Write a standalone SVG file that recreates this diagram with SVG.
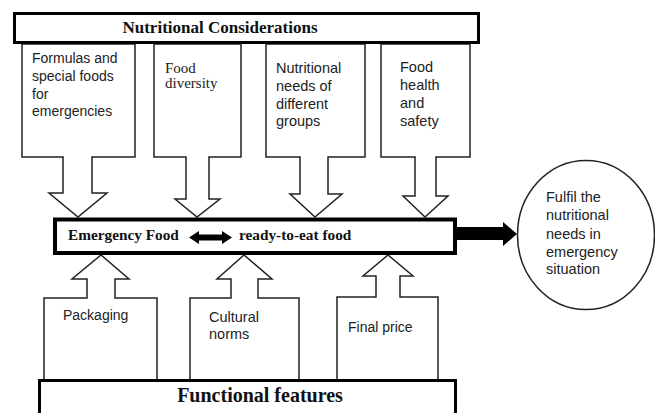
<svg xmlns="http://www.w3.org/2000/svg" width="655" height="413" viewBox="0 0 655 413">
<style>
.co{fill:#fff;stroke:#222;stroke-width:1.5;stroke-linejoin:miter}
.bx{fill:#fff;stroke:#000}
.t{font-family:"Liberation Sans",Arial,sans-serif;font-size:14.5px;fill:#222}
.t14{font-size:14px}
.ts{font-family:"Liberation Serif","Times New Roman",serif;font-size:15px;fill:#222}
.tb{font-family:"Liberation Serif","Times New Roman",serif;font-weight:bold;fill:#111}
</style>
<rect width="655" height="413" fill="#fff"/>
<g id="c-formulas">
<polygon class="co" points="22,44 22,157 63,157 63,193 49,193 78,217 107,193 92,193 92,157 135,157 135,44"/>
<text class="t t14" x="32" y="63">Formulas and</text>
<text class="t t14" x="32" y="81">special foods</text>
<text class="t t14" x="32" y="99">for</text>
<text class="t t14" x="32" y="116">emergencies</text>
</g>
<g id="c-diversity">
<polygon class="co" points="154,44 154,157 186,157 186,199 175,199 197,217 220,199 209,199 209,157 241,157 241,44"/>
<text class="ts" x="165" y="73">Food</text>
<text class="ts" x="165" y="88">diversity</text>
</g>
<g id="c-needs">
<polygon class="co" points="266,44 266,157 300,157 300,194 290,194 315,217 342,194 328,194 328,157 365,157 365,44"/>
<text class="t" x="276" y="73">Nutritional</text>
<text class="t" x="276" y="91">needs of</text>
<text class="t" x="276" y="109">different</text>
<text class="t" x="276" y="126">groups</text>
</g>
<g id="c-safety">
<polygon class="co" points="381,44 381,157 415,157 415,196 403,196 425,217 448,196 436,196 436,157 470,157 470,44"/>
<text class="t" x="400" y="72">Food</text>
<text class="t" x="400" y="90">health</text>
<text class="t" x="400" y="108">and</text>
<text class="t" x="400" y="126">safety</text>
</g>
<g id="c-packaging">
<polygon class="co" points="44,381 44,298 87,298 87,279 72,279 101,255 129,279 115,279 115,298 157,298 157,381"/>
<text class="t t14" x="63" y="320">Packaging</text>
</g>
<g id="c-cultural">
<polygon class="co" points="190,381 190,298 231,298 231,279 217,279 244,255 272,279 258,279 258,298 299,298 299,381"/>
<text class="t" x="209" y="322">Cultural</text>
<text class="t" x="209" y="339">norms</text>
</g>
<g id="c-price">
<polygon class="co" points="337,381 337,297 376,297 376,276 363,276 388,255 413,276 400,276 400,297 438,297 438,381"/>
<text class="t t14" x="348" y="332">Final price</text>
</g>
<g id="n-nutritional">
<rect class="bx" x="14.5" y="13.5" width="464" height="29" stroke-width="3"/>
<text class="tb" x="220" y="33" font-size="17" text-anchor="middle">Nutritional Considerations</text>
</g>
<g id="n-emergency">
<rect class="bx" x="55" y="219.5" width="400" height="33.5" stroke-width="4"/>
<text class="tb" x="68" y="240" font-size="15.3">Emergency Food</text>
<text class="tb" x="239" y="240" font-size="15.3">ready-to-eat food</text>
</g>
<g id="n-functional">
<rect class="bx" x="39.5" y="380.5" width="416" height="45" stroke-width="3"/>
<text class="tb" x="260" y="402" font-size="20" text-anchor="middle">Functional features</text>
</g>
<g id="n-fulfil">
<ellipse cx="586" cy="235" rx="68.5" ry="74.5" fill="#fff" stroke="#222" stroke-width="1.5"/>
<text class="t" x="546" y="202">Fulfil the</text>
<text class="t" x="546" y="220">nutritional</text>
<text class="t" x="546" y="239">needs in</text>
<text class="t" x="546" y="257">emergency</text>
<text class="t" x="546" y="274">situation</text>
</g>
<g id="connectors">
<polygon points="189,237.5 199,231 199,234.5 222,234.5 222,231 232,237.5 222,244 222,240.5 199,240.5 199,244" fill="#000"/>
<polygon points="457,227 503,227 503,222 517,234 503,246 503,240 457,240" fill="#000"/>
</g>
</svg>
